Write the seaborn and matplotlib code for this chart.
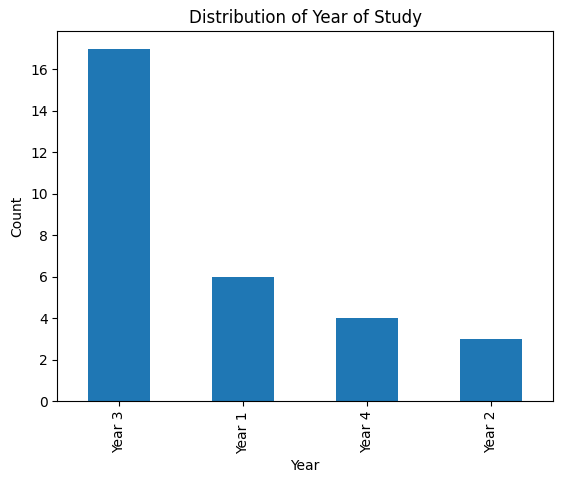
import pandas as pd
import matplotlib
matplotlib.use("Agg")
import matplotlib.pyplot as plt
import seaborn as sns

# Year of study counts
years = ["Year 3", "Year 1", "Year 4", "Year 2"]
counts = [17, 6, 4, 3]

df = pd.DataFrame({"Year": years, "Count": counts})

fig, ax = plt.subplots(figsize=(5.63, 4.84), dpi=100)
fig.subplots_adjust(left=0.102, right=0.982, top=0.936, bottom=0.171)

sns.barplot(data=df, x="Year", y="Count", color="#1f77b4", saturation=1, width=0.5, ax=ax)

ax.set_title("Distribution of Year of Study")
ax.set_xlabel("Year")
ax.set_ylabel("Count")
ax.set_xlim(-0.5, len(years) - 0.5)
ax.set_ylim(0, 17.85)
plt.xticks(rotation=90)

fig.savefig("out.png", dpi=100)
